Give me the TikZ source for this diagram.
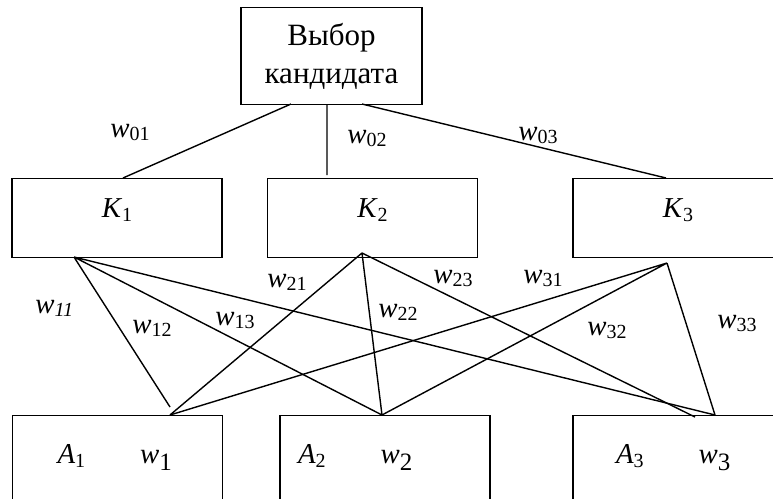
\documentclass[tikz,border=0pt]{standalone}
\usepackage{fontspec}
\setmainfont{Liberation Serif}

\newcommand\sbs[1]{\raisebox{-0.3ex}{\fontsize{10}{10}\selectfont #1}}
\newcommand\sbl[1]{\raisebox{-3.5pt}{\fontsize{12.5}{12.5}\selectfont #1}}
\newcommand\wij[1]{\textit{w}\sbs{#1}}

\begin{document}
\begin{tikzpicture}[x=0.5pt,y=-0.5pt,
    font=\fontsize{14.4}{19}\selectfont,
    box/.style={draw,line width=0.7pt,inner xsep=0pt,anchor=north},
    kbox/.style={box,minimum width=105pt,inner ysep=9.5pt,text height=10pt,text depth=10.5pt},
    abox/.style={box,text width=105pt,align=left,inner ysep=14pt,text height=10pt,text depth=40pt},
    edge/.style={line width=0.7pt}]
  \useasboundingbox (0,0) rectangle (773,499);

  \node[box,minimum width=90.5pt,minimum height=48.5pt,align=center,
        font=\fontsize{15.5}{19}\selectfont] (choice) at (331.5,7) {Выбор\\кандидата};

  \node[kbox] (K1) at (117,178) {\textit{K}\sbs{1}};
  \node[kbox] (K2) at (372.5,178) {\textit{K}\sbs{2}};
  \node[kbox] (K3) at (678,178) {\textit{K}\sbs{3}};

  \node[abox] (A1) at (117.5,415) {\hspace*{22.5pt}\textit{A}\sbs{1}\hspace{27.5pt}\textit{w}\sbl{1}};
  \node[abox] (A2) at (385,415) {\hspace*{9pt}\textit{A}\sbs{2}\hspace{27.5pt}\textit{w}\sbl{2}};
  \node[abox] (A3) at (678,415) {\hspace*{21.5pt}\textit{A}\sbs{3}\hspace{27.5pt}\textit{w}\sbl{3}};

  % ends of the connectors
  \coordinate (c1) at (291,104);
  \coordinate (c2) at (327,104);
  \coordinate (c3) at (362,104);
  \coordinate (k1t) at (123,178);
  \coordinate (k2t) at (327,175);
  \coordinate (k3t) at (666,178);
  \coordinate (k1b) at (74,257);
  \coordinate (k2b) at (362,253);
  \coordinate (k3b) at (667,263);
  \coordinate (a1u) at (170,407);
  \coordinate (a1t) at (170,415);
  \coordinate (a2t) at (382,415);
  \coordinate (a3t) at (715,415);
  \coordinate (a3s) at (695,417);

  \draw[edge] (c1) -- (k1t) (c2) -- (k2t) (c3) -- (k3t);
  \draw[edge] (k1b) -- (a1u) (k1b) -- (a2t) (k1b) -- (a3t);
  \draw[edge] (k2b) -- (a1t) (k2b) -- (a2t) (k2b) -- (a3s);
  \draw[edge] (k3b) -- (a1t) (k3b) -- (a2t) (k3b) -- (a3t);

  \begin{scope}[every node/.style={anchor=base west,inner sep=0pt}]
    \node (l01) at (110,137) {\wij{01}};
    \node (l02) at (347,143) {\wij{02}};
    \node (l03) at (518,140) {\wij{03}};
    \node (l11) at (35,313) {\textit{w}\sbs{\textit{11}}};
    \node (l12) at (132,333) {\wij{12}};
    \node (l13) at (215,325) {\wij{13}};
    \node (l21) at (267,287) {\wij{21}};
    \node (l22) at (378,317) {\wij{22}};
    \node (l23) at (433,283) {\wij{23}};
    \node (l31) at (523,283) {\wij{31}};
    \node (l32) at (587,335) {\wij{32}};
    \node (l33) at (717,328) {\wij{33}};
  \end{scope}
\end{tikzpicture}
\end{document}
